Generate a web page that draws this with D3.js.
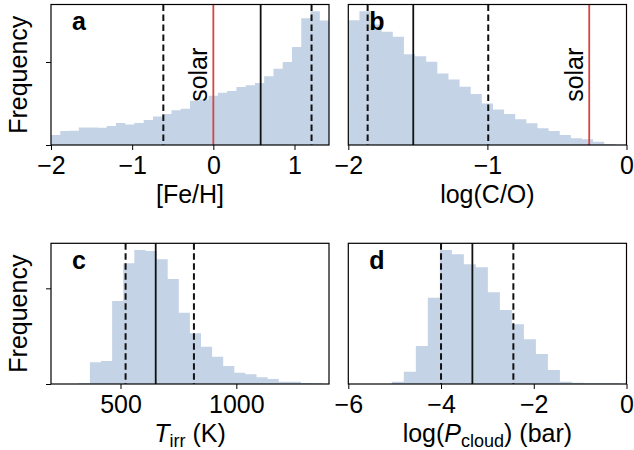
<!DOCTYPE html>
<html>
<head>
<meta charset="utf-8">
<script src="https://cdn.jsdelivr.net/npm/d3@7"></script>
<style>
  body { margin: 0; background: #fff; }
  svg { display: block; font-family: "Liberation Sans", Arial, sans-serif; }
</style>
</head>
<body>
<script>
// posterior histograms, equal-width bins (counts)
const fehStart = -2, fehWidth = 0.1142;
const fehCounts = [30, 42, 43, 53, 53, 52, 57, 66, 62, 66, 75, 86, 93, 105, 109,
                   133, 137, 148, 157, 163, 175, 180, 187, 207, 230, 250, 295, 382, 403, 375];
const fehTicks = [-2, -1, 0, 1];
const fehLines = [-0.616, 0.583, 1.21];   // 16th, 50th, 84th percentile
const fehSolar = 0;

const coStart = -2, coWidth = 0.08;
const coCounts = [375, 402, 362, 340, 325, 273, 267, 250, 215, 197, 175, 153, 125,
                  107, 93, 77, 65, 50, 42, 30, 20, 17, 10, 3, 1];
const coTicks = [-2, -1, 0];
const coLines = [-1.861, -1.533, -0.994];
const coSolar = -0.268;

const tStart = 320, tWidth = 47.95;
const tCounts = [2, 65, 69, 249, 362, 402, 399, 374, 315, 214, 152, 112, 82, 54,
                 34, 29, 20, 15, 7, 7, 3, 2];
const tTicks = [500, 1000];
const tLines = [522, 652, 817];

const pStart = -5.062, pWidth = 0.259;
const pCounts = [7, 37, 114, 259, 402, 389, 359, 350, 275, 222, 179, 134, 90, 42,
                 7, 4, 2, 2, 2, 1];
const pTicks = [-6, -4, -2, 0];
const pLines = [-4.0, -3.324, -2.44];

const freqTicks = [0, 250];
const freqTicksC = [0, 287];

const W = 634, H = 450;
const fs = 25;
const barColor = "#c4d3e6";
const solarColor = "#d64541";

const cols = [{left: 51, right: 329}, {left: 348.3, right: 626.5}];
const rows = [{top: 4.5, bottom: 145}, {top: 243.3, bottom: 384}];

const panels = [
  {letter: "a", col: 0, row: 0, counts: fehCounts, start: fehStart, width: fehWidth,
   domain: [-2, 1.425], ticks: fehTicks, lines: fehLines, solar: fehSolar,
   yticks: freqTicks, label: [{t: "[Fe/H]"}]},
  {letter: "b", col: 1, row: 0, counts: coCounts, start: coStart, width: coWidth,
   domain: [-2, 0], ticks: coTicks, lines: coLines, solar: coSolar,
   yticks: null, label: [{t: "log(C/O)"}]},
  {letter: "c", col: 0, row: 1, counts: tCounts, start: tStart, width: tWidth,
   domain: [200, 1400], ticks: tTicks, lines: tLines, solar: null,
   yticks: freqTicksC, label: [{t: "T", it: true}, {t: "irr", sub: true}, {t: " (K)", up: true}]},
  {letter: "d", col: 1, row: 1, counts: pCounts, start: pStart, width: pWidth,
   domain: [-6, 0], ticks: pTicks, lines: pLines, solar: null,
   yticks: null, label: [{t: "log("}, {t: "P", it: true}, {t: "cloud", sub: true}, {t: ") (bar)", up: true}]}
];

const svg = d3.select("body").append("svg")
    .attr("width", W)
    .attr("height", H);

panels.forEach((p, i) => {
  const c = cols[p.col], r = rows[p.row];
  const w = c.right - c.left, h = r.bottom - r.top;

  const x = d3.scaleLinear().domain(p.domain).range([0, w]);
  const y = d3.scaleLinear().domain([0, d3.max(p.counts) * 1.05]).range([h, 0]);

  const g = svg.append("g").attr("transform", `translate(${c.left},${r.top})`);

  g.append("clipPath").attr("id", "clip" + i)
    .append("rect").attr("width", w).attr("height", h);

  // step-filled histogram
  const pts = p.counts.map((v, k) => [p.start + k * p.width, v]);
  pts.push([p.start + p.counts.length * p.width, p.counts[p.counts.length - 1]]);
  const area = d3.area()
      .curve(d3.curveStepAfter)
      .x(d => x(d[0]))
      .y0(y(0))
      .y1(d => y(d[1]));
  g.append("path")
    .datum(pts)
    .attr("clip-path", `url(#clip${i})`)
    .attr("fill", barColor)
    .attr("d", area);

  // percentiles
  p.lines.forEach((v, k) => {
    g.append("line")
      .attr("x1", x(v)).attr("x2", x(v))
      .attr("y1", 0).attr("y2", h)
      .attr("stroke", "#111")
      .attr("stroke-width", k === 1 ? 1.8 : 2)
      .attr("stroke-dasharray", k === 1 ? null : "6.5,3.5");
  });

  if (p.solar !== null) {
    g.append("line")
      .attr("x1", x(p.solar)).attr("x2", x(p.solar))
      .attr("y1", 0).attr("y2", h)
      .attr("stroke", solarColor)
      .attr("stroke-width", 1.8);
    g.append("text")
      .attr("transform", `translate(${x(p.solar) - 6.5},${h / 2}) rotate(-90)`)
      .attr("text-anchor", "middle")
      .attr("font-size", fs)
      .text("solar");
  }

  // frame
  g.append("rect")
    .attr("width", w).attr("height", h)
    .attr("fill", "none")
    .attr("stroke", "#000")
    .attr("stroke-width", 1.2);

  // x axis
  const xa = g.append("g")
    .attr("transform", `translate(0,${h})`)
    .call(d3.axisBottom(x).tickValues(p.ticks).tickSize(5).tickPadding(6.5).tickFormat(d3.format("d")));
  xa.select(".domain").remove();
  xa.selectAll("line").attr("stroke", "#000").attr("stroke-width", 1);
  xa.selectAll("text").attr("font-size", fs).attr("font-family", null).attr("fill", "#000");

  if (p.yticks) {
    const ya = g.append("g")
      .call(d3.axisLeft(y).tickValues(p.yticks).tickSize(5).tickFormat(""));
    ya.select(".domain").remove();
    ya.selectAll("line").attr("stroke", "#000").attr("stroke-width", 1);

    g.append("text")
      .attr("transform", `translate(${27 - c.left},${h / 2}) rotate(-90)`)
      .attr("text-anchor", "middle")
      .attr("font-size", fs)
      .text("Frequency");
  }

  // x label
  const lab = g.append("text")
    .attr("x", w / 2)
    .attr("y", h + 58)
    .attr("text-anchor", "middle")
    .attr("font-size", fs);
  p.label.forEach(s => {
    const ts = lab.append("tspan").text(s.t);
    if (s.it) ts.attr("font-style", "italic");
    if (s.sub) ts.attr("font-size", 18).attr("dy", 5);
    if (s.up) ts.attr("dy", -5);
  });

  // panel letter
  g.append("text")
    .attr("x", 21)
    .attr("y", 25.5)
    .attr("font-size", fs)
    .attr("font-weight", "bold")
    .text(p.letter);
});
</script>
</body>
</html>
